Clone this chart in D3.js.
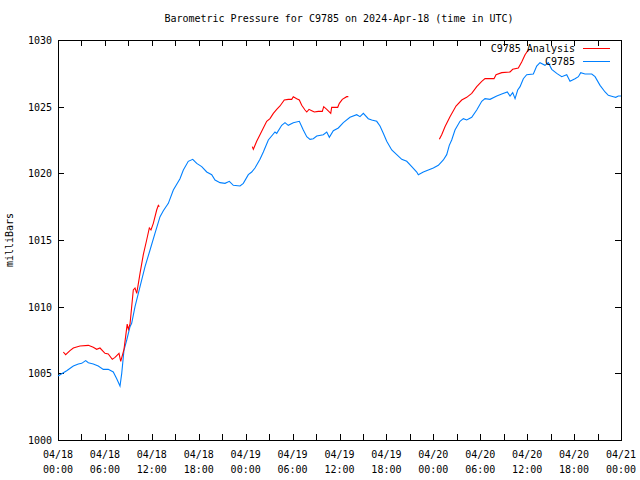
<!DOCTYPE html>
<html><head><meta charset="utf-8">
<script src="https://cdn.jsdelivr.net/npm/d3@7"></script>
<style>body{margin:0;background:#fff}svg{display:block}text{font-family:"DejaVu Sans Mono",monospace;font-size:10px;fill:#000}</style>
</head><body><svg id="c" width="640" height="480"></svg>
<script>
// hours since 2024-04-18 00:00 UTC
const blueHours = [0,1.11,1.96,2.6,3.03,3.54,3.88,4.51,5.15,5.79,6.43,7.07,7.51,7.93,8.15,8.44,8.79,9.21,9.42,9.85,10.49,11.13,11.77,12.4,13.05,13.47,14.11,14.75,15.6,16.03,16.66,17.23,17.74,18.38,19.02,19.66,20.08,20.72,21.36,21.91,22.42,23.28,23.7,24.34,24.77,25.19,25.83,26.26,26.9,27.75,27.97,28.61,29.03,29.45,30.09,30.86,31.37,31.81,32.23,32.65,33.09,33.93,34.37,34.7,35.21,35.85,36.49,37.34,38.2,38.62,39.05,39.68,40.12,40.76,41.18,41.6,42.04,42.68,43.32,43.96,44.6,45.24,45.88,46.08,46.72,47.36,48.0,48.64,49.28,49.71,50.04,50.35,50.77,51.41,51.84,52.27,52.91,53.55,54.19,54.61,55.25,56.11,56.75,57.46,57.81,58.15,58.45,58.79,59.09,59.51,59.94,60.79,61.22,61.64,62.28,62.71,63.14,63.78,64.42,65.06,65.48,66.12,66.55,66.85,67.4,68.26,68.68,69.32,69.96,70.38,71.02,71.33,71.66,72.0];
const bluePressure = [1004.8,1005.2,1005.55,1005.7,1005.75,1005.95,1005.8,1005.7,1005.55,1005.3,1005.3,1005.1,1004.6,1004.05,1005.0,1006.75,1007.5,1008.5,1008.75,1010.0,1011.5,1013.0,1014.25,1015.5,1016.75,1017.2,1017.75,1018.75,1019.6,1020.25,1020.9,1021.05,1020.75,1020.5,1020.1,1019.9,1019.5,1019.3,1019.25,1019.4,1019.1,1019.05,1019.25,1019.9,1020.1,1020.4,1021.05,1021.6,1022.5,1023.1,1023.0,1023.6,1023.8,1023.6,1023.8,1023.9,1023.25,1022.75,1022.55,1022.6,1022.8,1022.9,1023.1,1022.7,1023.2,1023.4,1023.8,1024.2,1024.4,1024.25,1024.5,1024.1,1024.0,1023.9,1023.55,1023.0,1022.4,1021.75,1021.4,1021.05,1020.9,1020.5,1020.1,1019.9,1020.1,1020.25,1020.4,1020.6,1021.0,1021.4,1022.1,1022.5,1023.25,1023.9,1024.1,1024.0,1024.2,1024.75,1025.4,1025.6,1025.55,1025.8,1025.95,1026.1,1025.8,1026.05,1025.6,1026.25,1026.5,1027.1,1027.4,1027.45,1028.05,1028.3,1028.1,1028.3,1027.8,1027.5,1027.25,1027.4,1026.9,1027.1,1027.25,1027.55,1027.45,1027.45,1027.25,1026.6,1026.1,1025.85,1025.75,1025.7,1025.8,1025.8];
// analysis series: null marks a gap
const redHours = [0.68,0.98,1.53,1.96,2.81,3.88,4.51,4.95,5.37,6.01,6.43,6.94,7.29,7.8,8.02,8.44,8.7,8.85,9.0,9.21,9.63,9.85,10.07,10.49,10.91,11.34,11.68,11.89,12.19,12.62,12.83,12.96,
  18,
  24.85,24.98,25.41,25.83,26.26,26.69,27.11,27.54,27.97,28.39,28.94,29.45,29.89,30.09,30.53,30.86,31.17,31.59,31.81,32.1,32.45,32.78,33.29,33.8,33.98,34.37,34.88,35.0,35.77,35.98,36.36,36.92,37.13,
  42,
  48.77,49.07,49.49,50.13,50.9,51.63,52.27,52.91,53.55,54.19,54.61,55.76,56.02,56.75,57.81,58.15,58.87,59.3,59.73,60.15,60.58];
const redPressure = [1006.6,1006.4,1006.7,1006.9,1007.05,1007.1,1006.95,1006.8,1006.9,1006.5,1006.45,1006.05,1006.2,1006.5,1005.9,1006.8,1008.0,1008.7,1008.3,1008.7,1011.25,1011.4,1011.0,1012.5,1013.9,1015.0,1015.9,1015.75,1016.25,1017.25,1017.6,1017.5,
  null,
  1022.0,1021.8,1022.4,1022.9,1023.4,1023.9,1024.1,1024.5,1024.8,1025.05,1025.5,1025.55,1025.55,1025.75,1025.6,1025.5,1025.1,1024.75,1024.6,1024.8,1024.7,1024.6,1024.65,1024.65,1025.0,1024.8,1024.5,1024.95,1024.95,1025.25,1025.55,1025.75,1025.75,
  null,
  1022.55,1022.9,1023.5,1024.25,1025.05,1025.5,1025.7,1026.0,1026.5,1026.9,1027.1,1027.1,1027.4,1027.55,1027.6,1027.8,1027.9,1028.35,1028.9,1029.25,1029.3];
const xTickHours = [0,6,12,18,24,30,36,42,48,54,60,66,72];
const xTickLabels = [["04/18","00:00"],["04/18","06:00"],["04/18","12:00"],["04/18","18:00"],["04/19","00:00"],["04/19","06:00"],["04/19","12:00"],["04/19","18:00"],["04/20","00:00"],["04/20","06:00"],["04/20","12:00"],["04/20","18:00"],["04/21","00:00"]];
const yTicks = [1000,1005,1010,1015,1020,1025,1030];
const seriesNames = ["C9785 Analysis","C9785"];
const seriesColors = ["#ff0000","#0080ff"];

const L=58,R=621,T=40,B=440;
const svg=d3.select("#c");
const x=d3.scaleLinear().domain([0,72]).range([L,R]);
const y=d3.scaleLinear().domain([1000,1030]).range([B,T]);

svg.append("text").attr("x",339).attr("y",22).attr("text-anchor","middle").text("Barometric Pressure for C9785 on 2024-Apr-18 (time in UTC)");

const g=svg.append("g").attr("shape-rendering","crispEdges");
const minor=d3.range(0,73,3);
minor.forEach(h=>{
  g.append("line").attr("x1",Math.round(x(h))+0.5).attr("x2",Math.round(x(h))+0.5).attr("y1",B).attr("y2",B-6).attr("stroke","#000");
  g.append("line").attr("x1",Math.round(x(h))+0.5).attr("x2",Math.round(x(h))+0.5).attr("y1",T).attr("y2",T+6).attr("stroke","#000");
});
yTicks.forEach(v=>{
  g.append("line").attr("x1",L).attr("x2",L+6).attr("y1",Math.round(y(v))+0.5).attr("y2",Math.round(y(v))+0.5).attr("stroke","#000");
  g.append("line").attr("x1",R).attr("x2",R-6).attr("y1",Math.round(y(v))+0.5).attr("y2",Math.round(y(v))+0.5).attr("stroke","#000");
  svg.append("text").attr("x",L-6).attr("y",y(v)+4).attr("text-anchor","end").text(v);
});
xTickHours.forEach((h,i)=>{
  const t=svg.append("text").attr("x",x(h)).attr("y",B+18).attr("text-anchor","middle");
  t.append("tspan").attr("x",x(h)).text(xTickLabels[i][0]);
  t.append("tspan").attr("x",x(h)).attr("dy",15).text(xTickLabels[i][1]);
});
g.append("rect").attr("x",L+0.5).attr("y",T+0.5).attr("width",R-L).attr("height",B-T).attr("fill","none").attr("stroke","#000");

svg.append("text").attr("transform","translate(13,240) rotate(-90)").attr("text-anchor","middle").text("milliBars");

const blue=blueHours.map((h,i)=>[h,bluePressure[i]]);
const red=redHours.map((h,i)=>[h,redPressure[i]]);
const line=d3.line().defined(d=>d[1]!=null).x(d=>x(d[0])).y(d=>y(d[1]));
svg.append("path").attr("d",line(blue)).attr("fill","none").attr("stroke",seriesColors[1]).attr("stroke-width",1.1);
svg.append("path").attr("d",line(red)).attr("fill","none").attr("stroke",seriesColors[0]).attr("stroke-width",1.1);

// legend
[0,1].forEach(i=>{
  const ly=48+i*13;
  svg.append("text").attr("x",575).attr("y",ly+4).attr("text-anchor","end").text(seriesNames[i]);
  svg.append("line").attr("x1",583).attr("x2",610).attr("y1",ly+0.5).attr("y2",ly+0.5).attr("stroke",seriesColors[i]).attr("shape-rendering","crispEdges");
});
</script></body></html>
